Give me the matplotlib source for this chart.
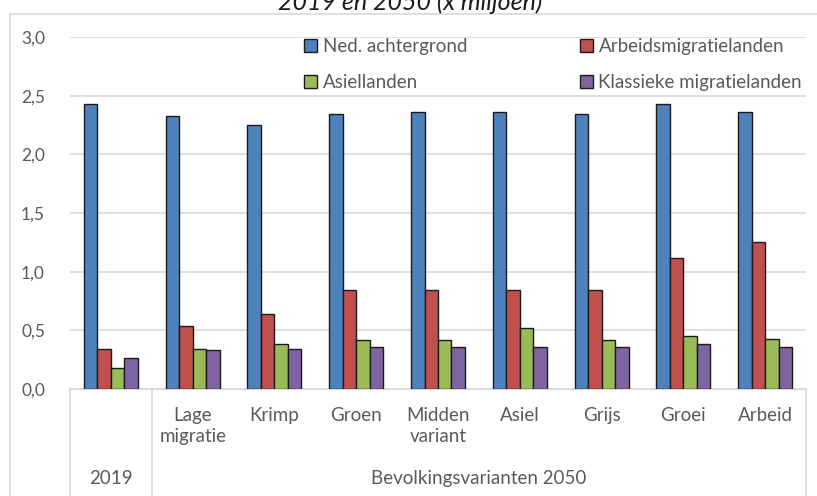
import numpy as np
import matplotlib.pyplot as plt
from matplotlib.patches import Rectangle

plt.rcParams['font.family'] = ['Lato', 'DejaVu Sans']

groups = ['', 'Lage\nmigratie', 'Krimp', 'Groen', 'Midden\nvariant', 'Asiel', 'Grijs', 'Groei', 'Arbeid']
series = ['Ned. achtergrond', 'Arbeidsmigratielanden', 'Asiellanden', 'Klassieke migratielanden']
ned = [2.43, 2.33, 2.25, 2.34, 2.36, 2.36, 2.34, 2.43, 2.36]
arbeid = [0.34, 0.54, 0.64, 0.84, 0.84, 0.84, 0.84, 1.12, 1.25]
asiel = [0.18, 0.34, 0.38, 0.42, 0.42, 0.52, 0.42, 0.45, 0.43]
klassiek = [0.26, 0.33, 0.34, 0.36, 0.36, 0.36, 0.36, 0.38, 0.36]
outer_labels = ['2019', 'Bevolkingsvarianten 2050']
yticks = [0, 0.5, 1.0, 1.5, 2.0, 2.5, 3.0]

colors = ['#4F81BD', '#C0504D', '#9BBB59', '#8064A2']
grey = '#595959'
fs = 13.5

fig = plt.figure(figsize=(8.17, 4.96), dpi=100)
ax = fig.add_axes([70/817, 1-389/496, 736/817, 352/496])

x = np.arange(len(groups))
w = 0.165
bars = []
for i, (vals, c, lab) in enumerate(zip([ned, arbeid, asiel, klassiek], colors, series)):
    bars.append(ax.bar(x + (i - 1.5)*w, vals, w, color=c, edgecolor='#1a1a1a',
                       linewidth=1.0, label=lab, zorder=3))

ax.set_xlim(-0.5, len(groups) - 0.5)
ax.set_ylim(0, 3)
ax.set_yticks(yticks)
ax.set_yticklabels([f'{t:.1f}'.replace('.', ',') for t in yticks], color=grey, fontsize=12.5)
ax.yaxis.grid(True, color='#d9d9d9', linewidth=1.2, zorder=0)
ax.tick_params(axis='y', length=0, pad=18)
ax.set_xticks([])
for s in ['left', 'right', 'top']:
    ax.spines[s].set_visible(False)
ax.spines['bottom'].set_color('#d9d9d9')

# multi-level category labels
tr = ax.get_xaxis_transform()
for xi, g in zip(x, groups):
    ax.text(xi, -0.05, g, ha='center', va='top', fontsize=fs, color=grey,
            linespacing=1.3, transform=tr)
ax.text(0, -0.255, outer_labels[0], ha='center', va='center', fontsize=fs, color=grey, transform=tr)
ax.text(4.5, -0.255, outer_labels[1], ha='center', va='center', fontsize=fs, color=grey, transform=tr)
for xb in [-0.5, 0.5, 8.5]:
    ax.plot([xb, xb], [0, -0.31], color='#d9d9d9', linewidth=1.2, clip_on=False, transform=tr)

# legend filled row by row like the original
order = [0, 2, 1, 3]
ax.legend([bars[i] for i in order], [series[i] for i in order], ncol=2, loc='upper left',
          bbox_to_anchor=(0.295, 1.045), frameon=False, fontsize=fs, labelcolor=grey,
          handlelength=0.7, handleheight=0.7, handletextpad=0.3, columnspacing=6.0,
          labelspacing=1.0)

# outer chart border
fig.patches.append(Rectangle((10/817, -0.1), 1.0, 1 - 14/496 + 0.1, transform=fig.transFigure,
                             fill=False, edgecolor='#d9d9d9', linewidth=1.2))

fig.text(410/817, 1 - 10/496, '2019 en 2050 (x miljoen)', ha='center', va='baseline',
         fontsize=18, style='italic', color='#1a1a1a')

fig.savefig('out.png', dpi=100)
